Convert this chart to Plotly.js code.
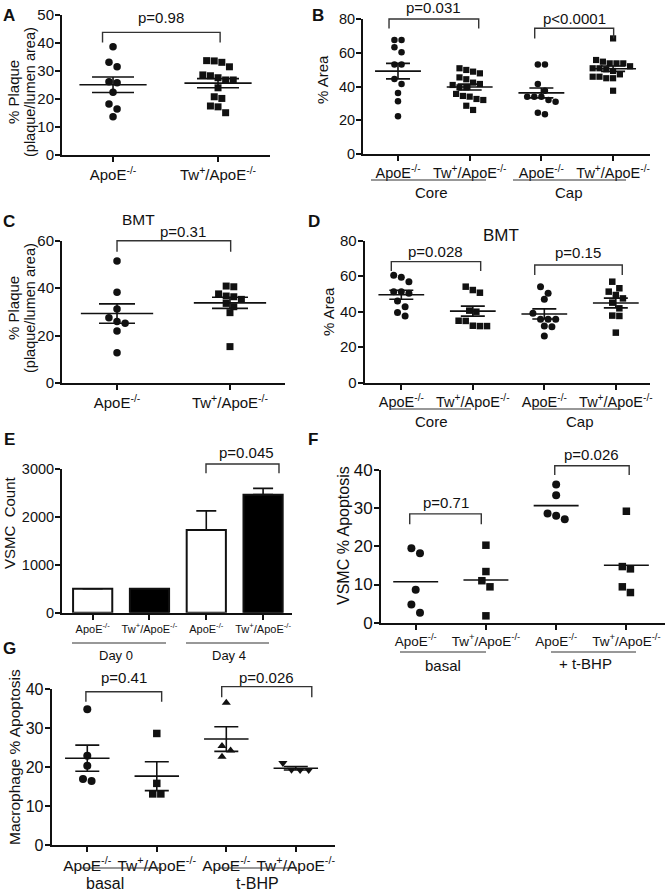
<!DOCTYPE html>
<html><head><meta charset="utf-8">
<script src="https://cdn.plot.ly/plotly-3.0.1.min.js"></script>
<style>html,body{margin:0;padding:0;background:#fff}#chart{width:666px;height:895px}</style>
</head><body><div id="chart"></div>
<script>
// ---------------- data ----------------
const catsAB = ['ApoE<sup>-/-</sup>', 'Tw<sup>+</sup>/ApoE<sup>-/-</sup>'];
const cats4 = catsAB.concat(catsAB);

// A: % plaque
const A_apoe = [38.7, 33.1, 31.5, 26.2, 25.8, 22.4, 18.2, 16.4, 13.7];
const A_tw = [33.6, 31.5, 33.1, 33.7, 28.3, 26.8, 26.8, 27.6, 28.6, 24.0, 20.8, 20.2, 15.1, 17.2, 17.5];
// B: % area (core / cap)
const B_core_apoe = [67.6, 67.6, 63.2, 60.3, 53.1, 53.1, 44.4, 41.5, 36.1, 31.2, 22.3];
const B_core_tw = [49.8, 50.8, 48.8, 47.8, 45.4, 44.3, 42.3, 40.9, 39.5, 39.5, 41.5, 34.4, 32.6, 32.0, 34.0, 35.6, 28.6, 26.1];
const B_cap_apoe = [53.1, 53.1, 41.5, 37.5, 34.0, 32.0, 31.0, 34.0, 34.0, 23.5, 24.5];
const B_cap_tw = [68.5, 55.7, 53.7, 53.7, 54.7, 53.7, 49.2, 50.8, 50.2, 50.8, 45.8, 44.9, 44.9, 45.8, 47.2, 37.5, 52.0];
// C: BMT % plaque
const C_apoe = [51.5, 38.3, 31.2, 27.6, 26.0, 25.2, 22.0, 12.8];
const C_tw = [40.6, 40.9, 36.4, 37.6, 36.7, 35.3, 33.6, 32.2, 29.7, 15.4];
// D: BMT % area
const D_core_apoe = [59.4, 60.6, 56.9, 51.3, 51.3, 50.4, 46.0, 42.8, 37.6, 39.5];
const D_core_tw = [54.1, 50.7, 52.2, 40.0, 40.6, 34.9, 31.9, 31.9, 32.1, 34.8];
const D_cap_apoe = [54.1, 47.0, 50.4, 35.7, 35.7, 35.7, 31.5, 31.9, 26.3, 39.1];
const D_cap_tw = [56.9, 53.2, 51.3, 49.4, 47.5, 45.1, 37.6, 41.9, 28.2, 37.8];
// E: VSMC count
const E_groups = ['Day 0', 'Day 4'];
const E_vals = [500, 500, 1730, 2470];
const E_err = [0, 0, 400, 130];
// F: VSMC % apoptosis
const F_groups = ['basal', '+ t-BHP'];
const F_basal_apoe = [18.2, 19.5, 8.6, 4.8, 2.6];
const F_basal_tw = [20.3, 13.4, 11.0, 9.4, 1.8];
const F_tbhp_apoe = [36.2, 33.4, 28.6, 28.0, 27.1];
const F_tbhp_tw = [29.2, 14.7, 14.1, 9.4, 7.9];
// G: macrophage % apoptosis
const G_groups = ['basal', 't-BHP'];
const G_basal_apoe = [34.8, 22.9, 20.3, 16.4, 16.9];
const G_basal_tw = [28.6, 15.8, 13.1, 13.1];
const G_tbhp_apoe = [36.5, 25.4, 22.6, 24.2];
const G_tbhp_tw = [21.0, 19.3, 19.2, 19.2];

const B_groups = ['Core', 'Cap'];
const pA = ['p=0.98'], pB = ['p=0.031', 'p<0.0001'], pC = ['p=0.31'], pD = ['p=0.028', 'p=0.15'];
const pE = ['p=0.045'], pF = ['p=0.71', 'p=0.026'], pG = ['p=0.41', 'p=0.026'];

// ---------------- layout helpers ----------------
const W = 666, H = 895;
const FONT = '"Liberation Sans", Arial, Helvetica, sans-serif';
const INK = '#111';
const traces = [], shapes = [], annotations = [];
const layout = {
  width: W, height: H, margin: {l: 0, r: 0, t: 0, b: 0},
  paper_bgcolor: '#fff', plot_bgcolor: '#fff', showlegend: false,
  font: {family: FONT, color: INK}, shapes, annotations
};

const P = {
  A: {id: '',  xd: [62, 270],     yd: [15, 155],     xr: [-0.486, 1.495], yr: [0, 50],   dtick: 10,   ticks: catsAB, yfs: 15,   xfs: 15},
  B: {id: '2', xd: [363, 650],    yd: [19, 154],     xr: [-0.488, 3.515], yr: [0, 80],   dtick: 20,   ticks: cats4,  yfs: 14.5, xfs: 14.5},
  C: {id: '3', xd: [62, 285],     yd: [240.7, 383.2],xr: [-0.487, 1.487], yr: [0, 60],   dtick: 20,   ticks: catsAB, yfs: 15,   xfs: 15},
  D: {id: '4', xd: [364.7, 650],  yd: [240.7, 382.7],xr: [-0.512, 3.478], yr: [0, 80],   dtick: 20,   ticks: cats4,  yfs: 15,   xfs: 14.5},
  E: {id: '5', xd: [62, 292],     yd: [469.3, 612.7],xr: [-0.54, 3.509],  yr: [0, 3000], dtick: 1000, ticks: cats4,  yfs: 14.5, xfs: 11},
  F: {id: '6', xd: [381, 665],    yd: [470, 622.7],  xr: [-0.494, 3.55],  yr: [0, 40],   dtick: 10,   ticks: cats4,  yfs: 17,   xfs: 13.5},
  G: {id: '7', xd: [51.7, 335],   yd: [689, 845],    xr: [-0.512, 3.564], yr: [0, 40],   dtick: 10,   ticks: cats4,  yfs: 16,   xfs: 15.5}
};

function addAxes(p) {
  const common = {showline: true, linewidth: 2, linecolor: INK, ticks: 'outside', ticklen: 5, tickwidth: 2,
    tickcolor: INK, showgrid: false, zeroline: false, fixedrange: true};
  layout['xaxis' + p.id] = Object.assign({}, common, {
    domain: [p.xd[0] / W, p.xd[1] / W], range: p.xr, anchor: 'y' + p.id,
    tickmode: 'array', tickvals: p.ticks.map((_, i) => i), ticktext: p.ticks, tickangle: 0,
    tickfont: {family: FONT, size: p.xfs, color: INK}});
  layout['yaxis' + p.id] = Object.assign({}, common, {
    domain: [1 - p.yd[1] / H, 1 - p.yd[0] / H], range: p.yr, anchor: 'x' + p.id, ticklabelstandoff: -2,
    tickmode: 'linear', tick0: 0, dtick: p.dtick, tickfont: {family: FONT, size: p.yfs, color: INK}});
}
Object.values(P).forEach(addAxes);

const pxX = p => (p.xd[1] - p.xd[0]) / (p.xr[1] - p.xr[0]);
const pxY = p => (p.yd[1] - p.yd[0]) / (p.yr[1] - p.yr[0]);
const xPaper = (p, v) => (p.xd[0] + (v - p.xr[0]) * pxX(p)) / W;
const yPaper = (p, v) => 1 - (p.yd[1] - (v - p.yr[0]) * pxY(p)) / H;
const mean = a => a.reduce((s, v) => s + v, 0) / a.length;
const sem = a => { const m = mean(a); return Math.sqrt(a.reduce((s, v) => s + (v - m) * (v - m), 0) / (a.length - 1)) / Math.sqrt(a.length); };

// symmetric binned swarm (pixel offsets)
function swarm(vals, ky, d) {
  const idx = vals.map((_, i) => i).sort((a, b) => vals[b] - vals[a]);
  const out = new Array(vals.length).fill(0);
  const placed = [];
  let i = 0;
  while (i < idx.length) {
    const start = vals[idx[i]], bin = [idx[i]];
    let j = i + 1;
    while (j < idx.length && (start - vals[idx[j]]) * ky < d) { bin.push(idx[j]); j++; }
    const base = bin.map((k, n) => (n - (bin.length - 1) / 2) * d);
    const shifts = [0, d / 2, -d / 2, d, -d, 1.5 * d, -1.5 * d];
    let chosen = 0;
    for (const s of shifts) {
      const ok = bin.every((k, n) => placed.every(q => {
        const dx = q.x - (base[n] + s), dy = q.y - vals[k] * ky;
        return dx * dx + dy * dy >= d * d * 0.8;
      }));
      if (ok) { chosen = s; break; }
    }
    bin.forEach((k, n) => { out[k] = base[n] + chosen; placed.push({x: out[k], y: vals[k] * ky}); });
    i = j;
  }
  return out;
}

function dots(p, cat, vals, symbol, size, semCap) {
  const offs = swarm(vals, pxY(p), size + 0.6).map(o => o / pxX(p));
  const xa = 'x' + p.id, ya = 'y' + p.id;
  traces.push({type: 'scatter', mode: 'markers', xaxis: xa, yaxis: ya, hoverinfo: 'skip', cliponaxis: false,
    x: vals.map((v, i) => cat + offs[i]), y: vals, marker: {symbol, size, color: INK, line: {width: 0}}});
  const m = mean(vals);
  traces.push({type: 'scatter', mode: 'lines', xaxis: xa, yaxis: ya, hoverinfo: 'skip',
    x: [cat - 0.32, cat + 0.32], y: [m, m], line: {color: INK, width: 1.6}});
  if (semCap) {
    traces.push({type: 'scatter', mode: 'markers', xaxis: xa, yaxis: ya, hoverinfo: 'skip',
      x: [cat], y: [m], marker: {size: 1, color: 'rgba(0,0,0,0)'},
      error_y: {type: 'data', array: [sem(vals)], visible: true, color: INK, thickness: 1.6, width: semCap}});
  }
}

function bracket(p, x1, x2, top, drop, text, dy, dx) {
  const X1 = xPaper(p, x1), X2 = xPaper(p, x2), YT = yPaper(p, top), YD = yPaper(p, drop);
  shapes.push({type: 'path', xref: 'paper', yref: 'paper', layer: 'above',
    path: `M${X1},${YD} L${X1},${YT} L${X2},${YT} L${X2},${YD}`, line: {color: '#333', width: 1.4}});
  annotations.push({xref: 'paper', yref: 'paper', x: (X1 + X2) / 2, y: YT, xshift: dx || 0, yshift: dy,
    text, showarrow: false, xanchor: 'center', yanchor: 'middle', font: {family: FONT, size: 15, color: INK}});
}

function txt(x, y, text, size, extra) {
  annotations.push(Object.assign({xref: 'paper', yref: 'paper', x: x / W, y: 1 - y / H, text, showarrow: false,
    xanchor: 'center', yanchor: 'middle', font: {family: FONT, size, color: INK}}, extra || {}));
}
function uline(x1, x2, y) {
  shapes.push({type: 'line', xref: 'paper', yref: 'paper', x0: x1 / W, x1: x2 / W, y0: 1 - y / H, y1: 1 - y / H,
    line: {color: '#333', width: 1.2}});
}

// ---------------- panels ----------------
// A
dots(P.A, 0, A_apoe, 'circle', 7.5, 21);
dots(P.A, 1, A_tw, 'square', 7, 21);
bracket(P.A, -0.1, 1.02, 43.8, 40.2, pA[0], 15);
// B
dots(P.B, 0, B_core_apoe, 'circle', 6.5, 12);
dots(P.B, 1, B_core_tw, 'square', 6.2, 12);
dots(P.B, 2, B_cap_apoe, 'circle', 6.5, 12);
dots(P.B, 3, B_cap_tw, 'square', 6.2, 12);
bracket(P.B, -0.125, 1.126, 80, 74.4, pB[0], 12);
bracket(P.B, 1.907, 3.008, 74.5, 68.5, pB[1], 10);
// C
dots(P.C, 0, C_apoe, 'circle', 7.5, 18);
dots(P.C, 1, C_tw, 'square', 7, 18);
bracket(P.C, 0, 1.006, 60, 55.4, pC[0], 9, 9);
// D
dots(P.D, 0, D_core_apoe, 'circle', 7, 12);
dots(P.D, 1, D_core_tw, 'square', 6.5, 12);
dots(P.D, 2, D_cap_apoe, 'circle', 7, 12);
dots(P.D, 3, D_cap_tw, 'square', 6.5, 12);
bracket(P.D, -0.14, 1.11, 68.2, 63, pD[0], 10);
bracket(P.D, 1.866, 3.09, 66.3, 60.7, pD[1], 13);
// E
traces.push({type: 'bar', xaxis: 'x5', yaxis: 'y5', hoverinfo: 'skip', x: [0, 1, 2, 3], y: E_vals, width: 0.69,
  marker: {color: ['#fff', '#000', '#fff', '#000'], line: {color: INK, width: 2}},
  error_y: {type: 'data', symmetric: false, array: E_err, arrayminus: [0, 0, 0, 0], color: INK, thickness: 1.6, width: 10}});
bracket(P.E, 1.995, 3.28, 3111, 2916, pE[0], 11, 4);
// F
dots(P.F, 0, F_basal_apoe, 'circle', 8, 0);
dots(P.F, 1, F_basal_tw, 'square', 7.5, 0);
dots(P.F, 2, F_tbhp_apoe, 'circle', 8, 0);
dots(P.F, 3, F_tbhp_tw, 'square', 7.5, 0);
bracket(P.F, -0.085, 0.934, 28.5, 25.8, pF[0], 11);
bracket(P.F, 1.98, 3.04, 41.1, 38.7, pF[1], 11);
// G
dots(P.G, 0, G_basal_apoe, 'circle', 8, 12);
dots(P.G, 1, G_basal_tw, 'square', 7.5, 12);
dots(P.G, 2, G_tbhp_apoe, 'triangle-up', 8, 12);
dots(P.G, 3, G_tbhp_tw, 'triangle-down', 8, 12);
bracket(P.G, -0.02, 1.07, 39.3, 36.7, pG[0], 14);
bracket(P.G, 1.934, 3.23, 40.6, 37.9, pG[1], 9);

// group labels + underlines
uline(371, 486, 180); uline(513, 626, 180);
txt(431, 192, B_groups[0], 15); txt(569, 192, B_groups[1], 15);
uline(391, 471, 409); uline(533, 621, 409);
txt(431, 421, B_groups[0], 15); txt(580, 421, B_groups[1], 15);
uline(72, 166, 643); uline(186, 269, 643);
txt(116, 655, E_groups[0], 13); txt(229, 655, E_groups[1], 13);
uline(400, 486, 652); uline(551, 636, 652);
txt(443, 665, F_groups[0], 15); txt(585, 663, F_groups[1], 15);
uline(80, 162, 868); uline(218, 297, 868);
txt(105, 883, G_groups[0], 16); txt(257, 883, G_groups[1], 16);

// titles
txt(138, 219, 'BMT', 15.5);
txt(501, 235, 'BMT', 17);

// y axis titles
const rot = {textangle: -90};
txt(13, 92, '% Plaque', 15, rot);
txt(30, 92, '(plaque/lumen area)', 14.5, rot);
txt(322, 80, '% Area', 15, rot);
txt(13, 308, '% Plaque', 15, rot);
txt(30, 308, '(plaque/lumen area)', 14.5, rot);
txt(328, 312, '% Area', 15, rot);
txt(9, 523, 'VSMC  Count', 15, rot);
txt(343, 536, 'VSMC % Apoptosis', 16, rot);
txt(14, 757, 'Macrophage % Apoptosis', 15.5, rot);

// panel letters
[['A', 9, 16], ['B', 318, 16], ['C', 9, 222], ['D', 314, 222], ['E', 9, 440], ['F', 313, 440], ['G', 9, 648]]
  .forEach(([t, x, y]) => txt(x, y, '<b>' + t + '</b>', 17));

Plotly.newPlot('chart', traces, layout, {staticPlot: true, displayModeBar: false});
</script></body></html>
